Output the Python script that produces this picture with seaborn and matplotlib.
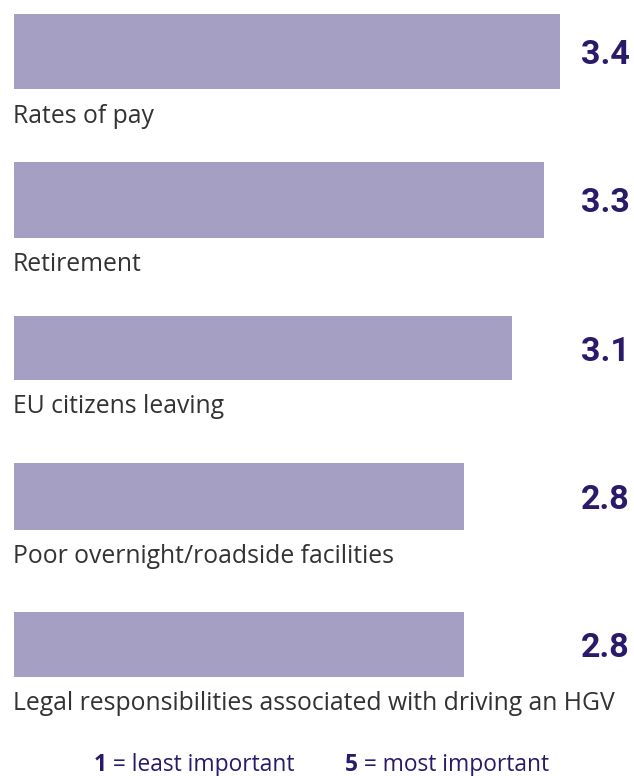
import matplotlib
matplotlib.use("Agg")
import matplotlib.pyplot as plt
import pandas as pd
import seaborn as sns

# Average importance score (1 = least important, 5 = most important)
categories = [
    "Rates of pay",
    "Retirement",
    "EU citizens leaving",
    "Poor overnight/roadside facilities",
    "Legal responsibilities associated with driving an HGV",
]
scores = [3.4, 3.3, 3.1, 2.8, 2.8]
value_labels = ["3.4", "3.3", "3.1", "2.8", "2.8"]

# Bar thickness for each row (fraction of the category step)
thickness = [0.506, 0.513, 0.425, 0.452, 0.438]

BAR = "#a69fc4"
DARK = "#2b1a69"
GREY = "#333333"
LABEL_FONT = ["Open Sans", "DejaVu Sans"]

sns.set_theme(style="white")
plt.rcParams["font.family"] = ["Roboto", "DejaVu Sans"]

df = pd.DataFrame({"category": categories, "score": scores})

fig = plt.figure(figsize=(6.34, 7.76), dpi=100)
ax = fig.add_axes([0, 0, 1, 1])

sns.barplot(data=df, x="score", y="category", orient="h", color=BAR,
            saturation=1, width=0.5, ax=ax)

# individual bar thickness, kept centred on each category
for patch, t in zip(ax.patches, thickness):
    cy = patch.get_y() + patch.get_height() / 2
    patch.set_height(t)
    patch.set_y(cy - t / 2)
    patch.set_edgecolor("none")

ax.set_xlim(-14 / 160.6, 620 / 160.6)
ax.set_ylim(4.887, -0.3474)
ax.axis("off")

for i, (cat, lab, t) in enumerate(zip(categories, value_labels, thickness)):
    # score to the right of the bar
    ax.text(580.5 / 634, i, lab, transform=ax.get_yaxis_transform(),
            ha="left", va="center_baseline", fontsize=24.5,
            fontweight="bold", color=DARK)
    # category name under the bar
    ax.annotate(cat, xy=(13 / 634, i + t / 2),
                xycoords=("axes fraction", "data"),
                xytext=(0, -33.5), textcoords="offset pixels",
                ha="left", va="baseline", fontsize=17.8, color=GREY,
                family=LABEL_FONT)

# scale key at the bottom
def key(x_px, num, rest):
    t1 = fig.text(x_px / 634, 1 - 771 / 776, num, ha="left", va="baseline",
                  fontsize=16.4, fontweight="bold", color=DARK,
                  family=LABEL_FONT)
    fig.canvas.draw()
    ax.annotate(rest, xy=(1, 0), xycoords=t1, ha="left", va="bottom",
                fontsize=16.4, color=DARK, annotation_clip=False,
                family=LABEL_FONT)

key(94, "1", " = least important")
key(345, "5", " = most important")

fig.savefig("out.png", dpi=100)
